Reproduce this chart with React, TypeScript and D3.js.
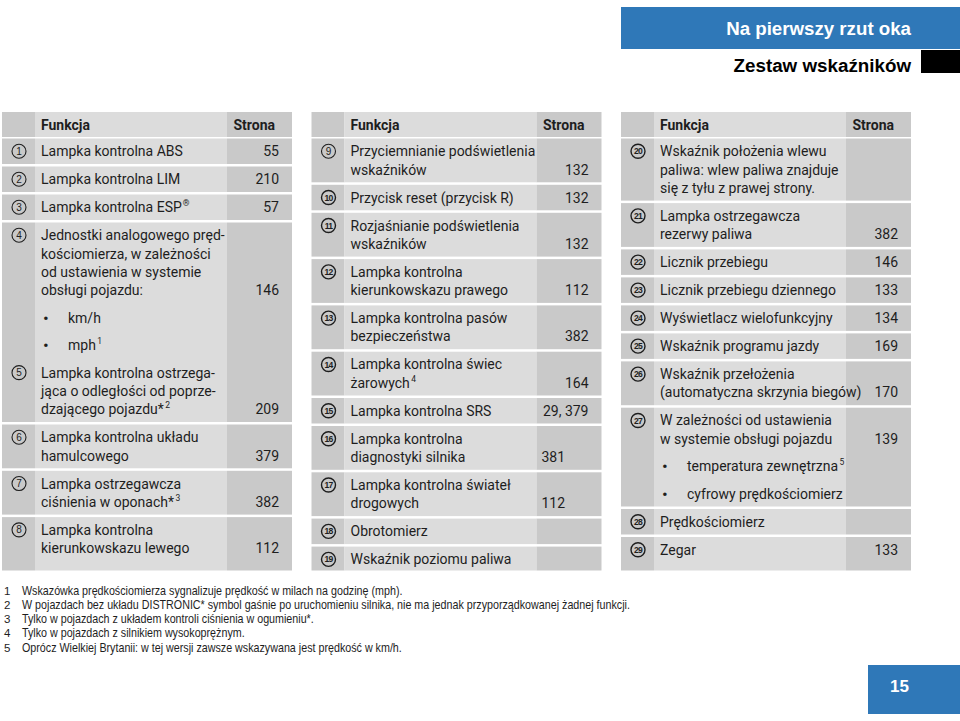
import React, { useEffect, useRef } from 'react';
import * as d3 from 'd3';

type Line = { num?: number; text: string; sup?: string; page?: string; bullet?: boolean };
type Block = Line[];

const sectionTitle = "Na pierwszy rzut oka";
const pageTitle = "Zestaw wskaźników";
const pageNumber = "15";
const headers = ["Funkcja", "Strona"];

const column1: Block[] = [
  [{ num: 1, text: "Lampka kontrolna ABS", page: "55" }],
  [{ num: 2, text: "Lampka kontrolna LIM", page: "210" }],
  [{ num: 3, text: "Lampka kontrolna ESP", sup: "®", page: "57" }],
  [
    { num: 4, text: "Jednostki analogowego pręd-" },
    { text: "kościomierza, w zależności" },
    { text: "od ustawienia w systemie" },
    { text: "obsługi pojazdu:", page: "146" },
    { bullet: true, text: "km/h" },
    { bullet: true, text: "mph", sup: "1" },
    { num: 5, text: "Lampka kontrolna ostrzega-" },
    { text: "jąca o odległości od poprze-" },
    { text: "dzającego pojazdu*", sup: "2", page: "209" },
  ],
  [{ num: 6, text: "Lampka kontrolna układu" }, { text: "hamulcowego", page: "379" }],
  [{ num: 7, text: "Lampka ostrzegawcza" }, { text: "ciśnienia w oponach*", sup: "3", page: "382" }],
  [{ num: 8, text: "Lampka kontrolna" }, { text: "kierunkowskazu lewego", page: "112" }],
];

const column2: Block[] = [
  [{ num: 9, text: "Przyciemnianie podświetlenia" }, { text: "wskaźników", page: "132" }],
  [{ num: 10, text: "Przycisk reset (przycisk R)", page: "132" }],
  [{ num: 11, text: "Rozjaśnianie podświetlenia" }, { text: "wskaźników", page: "132" }],
  [{ num: 12, text: "Lampka kontrolna" }, { text: "kierunkowskazu prawego", page: "112" }],
  [{ num: 13, text: "Lampka kontrolna pasów" }, { text: "bezpieczeństwa", page: "382" }],
  [{ num: 14, text: "Lampka kontrolna świec" }, { text: "żarowych", sup: "4", page: "164" }],
  [{ num: 15, text: "Lampka kontrolna SRS", page: "29, 379" }],
  [{ num: 16, text: "Lampka kontrolna" }, { text: "diagnostyki silnika", page: "381" }],
  [{ num: 17, text: "Lampka kontrolna świateł" }, { text: "drogowych", page: "112" }],
  [{ num: 18, text: "Obrotomierz" }],
  [{ num: 19, text: "Wskaźnik poziomu paliwa" }],
];

const column3: Block[] = [
  [
    { num: 20, text: "Wskaźnik położenia wlewu" },
    { text: "paliwa: wlew paliwa znajduje" },
    { text: "się z tyłu z prawej strony." },
  ],
  [{ num: 21, text: "Lampka ostrzegawcza" }, { text: "rezerwy paliwa", page: "382" }],
  [{ num: 22, text: "Licznik przebiegu", page: "146" }],
  [{ num: 23, text: "Licznik przebiegu dziennego", page: "133" }],
  [{ num: 24, text: "Wyświetlacz wielofunkcyjny", page: "134" }],
  [{ num: 25, text: "Wskaźnik programu jazdy", page: "169" }],
  [{ num: 26, text: "Wskaźnik przełożenia" }, { text: "(automatyczna skrzynia biegów)", page: "170" }],
  [
    { num: 27, text: "W zależności od ustawienia" },
    { text: "w systemie obsługi pojazdu", page: "139" },
    { bullet: true, text: "temperatura zewnętrzna", sup: "5" },
    { bullet: true, text: "cyfrowy prędkościomierz" },
  ],
  [{ num: 28, text: "Prędkościomierz" }],
  [{ num: 29, text: "Zegar", page: "133" }],
];

const columns = [column1, column2, column3];
const leftAlignedPages = [16, 17];

const footnotes = [
  "Wskazówka prędkościomierza sygnalizuje prędkość w milach na godzinę (mph).",
  "W pojazdach bez układu DISTRONIC* symbol gaśnie po uruchomieniu silnika, nie ma jednak przyporządkowanej żadnej funkcji.",
  "Tylko w pojazdach z układem kontroli ciśnienia w ogumieniu*.",
  "Tylko w pojazdach z silnikiem wysokoprężnym.",
  "Oprócz Wielkiej Brytanii: w tej wersji zawsze wskazywana jest prędkość w km/h.",
];

const App = () => {
  const svgRef = useRef<SVGSVGElement>(null);

  useEffect(() => {
    if (!svgRef.current) return;
    const width = 960;
    const height = 721;
    const font = "Roboto, 'Liberation Sans', Arial, sans-serif";
    const textColor = "#1e1e1e";
    const blue = "#2f78b8";

    const svg = d3.select(svgRef.current);
    svg.selectAll("*").remove();
    svg.attr("width", width).attr("height", height).attr("viewBox", `0 0 ${width} ${height}`);
    svg.append("rect").attr("width", width).attr("height", height).attr("fill", "#fff");

    // header bars
    svg.append("rect").attr("x", 621).attr("y", 7).attr("width", 339).attr("height", 42).attr("fill", blue);
    svg.append("rect").attr("x", 921).attr("y", 50).attr("width", 39).attr("height", 23).attr("fill", "#000");
    svg.append("text")
      .attr("x", 911).attr("y", 34.5).attr("text-anchor", "end")
      .attr("font-family", "'Liberation Sans', Arial, sans-serif")
      .attr("font-weight", "bold").attr("font-size", 18.7).attr("fill", "#fff")
      .text(sectionTitle);
    svg.append("text")
      .attr("x", 911).attr("y", 71.5).attr("text-anchor", "end")
      .attr("font-family", "'Liberation Sans', Arial, sans-serif")
      .attr("font-weight", "bold").attr("font-size", 18.8).attr("fill", "#000")
      .text(pageTitle);

    // table geometry
    const tableX = d3.scaleBand<number>()
      .domain([0, 1, 2])
      .range([2, 911])
      .paddingInner(19.5 / 309.5);
    const tw = tableX.bandwidth();
    const numW = 33;
    const pageX = 225;
    const headTop = 112;
    const headH = 25;
    const bodyTop = 138.5;
    const bodyBottom = 570.5;
    const pad = 12.75;
    const textStep = 18.3;
    const bulletStep = 27.5;
    const gap = 2.5;

    const gFunc = "#dcdcdc";
    const gSide = "#c9c9c9";

    const drawRowBg = (g: d3.Selection<SVGGElement, unknown, null, undefined>, y: number, h: number) => {
      g.append("rect").attr("x", 0).attr("y", y).attr("width", numW).attr("height", h).attr("fill", gSide);
      g.append("rect").attr("x", numW).attr("y", y).attr("width", pageX - numW).attr("height", h).attr("fill", gFunc);
      g.append("rect").attr("x", pageX).attr("y", y).attr("width", tw - pageX).attr("height", h).attr("fill", gSide);
    };

    const addText = (
      g: d3.Selection<SVGGElement, unknown, null, undefined>,
      x: number, y: number, txt: string, sup?: string
    ) => {
      const t = g.append("text")
        .attr("x", x).attr("y", y)
        .attr("font-family", font).attr("font-size", 14).attr("fill", textColor);
      t.append("tspan").text(txt);
      if (sup) {
        t.append("tspan").attr("font-size", 8.5).attr("dy", -6).attr("dx", sup === "®" ? 1 : 1.5).text(sup);
      }
      return t;
    };

    columns.forEach((blocks, ci) => {
      const g = svg.append("g").attr("transform", `translate(${tableX(ci)},0)`);

      // header
      drawRowBg(g, headTop, headH);
      g.append("text").attr("x", 39).attr("y", headTop + 17.5)
        .attr("font-family", font).attr("font-weight", "bold").attr("font-size", 14).attr("fill", textColor)
        .text(headers[0]);
      g.append("text").attr("x", 273).attr("y", headTop + 17.5).attr("text-anchor", "end")
        .attr("font-family", font).attr("font-weight", "bold").attr("font-size", 14).attr("fill", textColor)
        .text(headers[1]);

      let y = bodyTop;
      blocks.forEach((block, bi) => {
        const centers: number[] = [];
        let c = y + pad;
        block.forEach((line, li) => {
          if (li > 0) {
            const prev = block[li - 1];
            c += line.bullet || prev.bullet ? bulletStep : textStep;
          }
          centers.push(c);
        });
        const isLast = bi === blocks.length - 1;
        const h = isLast ? bodyBottom - y : centers[centers.length - 1] - y + pad;
        drawRowBg(g, y, h);

        let currentNum = 0;
        block.forEach((line, li) => {
          const cy = centers[li];
          const base = cy + 5;
          if (line.num !== undefined) {
            currentNum = line.num;
            const two = line.num >= 10;
            g.append("circle").attr("cx", 17).attr("cy", cy).attr("r", 7)
              .attr("fill", "none").attr("stroke", textColor).attr("stroke-width", two ? 1.4 : 1.1);
            g.append("text").attr("x", 17).attr("y", cy + (two ? 3.1 : 3.5)).attr("text-anchor", "middle")
              .attr("font-family", "'Liberation Sans', Arial, sans-serif")
              .attr("font-size", two ? 8.6 : 10).attr("font-weight", two ? "bold" : "normal")
              .attr("letter-spacing", two ? -0.7 : 0)
              .attr("fill", textColor)
              .text(String(line.num));
          }
          if (line.bullet) {
            g.append("text").attr("x", 41).attr("y", base + 1)
              .attr("font-family", font).attr("font-size", 17).attr("fill", textColor).text("•");
            addText(g, 66, base, line.text, line.sup);
          } else {
            addText(g, 39, base, line.text, line.sup);
          }
          if (line.page) {
            const left = leftAlignedPages.includes(currentNum);
            g.append("text").attr("x", left ? 230 : 277).attr("y", base)
              .attr("text-anchor", left ? "start" : "end")
              .attr("font-family", font).attr("font-size", 14).attr("fill", textColor)
              .text(line.page);
          }
        });
        y = y + h + gap;
      });
    });

    // footnotes
    const fy = d3.scaleLinear().domain([0, footnotes.length - 1]).range([594.5, 651.5]);
    footnotes.forEach((f, i) => {
      svg.append("text").attr("x", 4).attr("y", fy(i))
        .attr("font-family", "'Liberation Sans', Arial, sans-serif").attr("font-size", 11.5).attr("fill", textColor)
        .text(String(i + 1));
      svg.append("g").attr("transform", `translate(22,${fy(i)}) scale(0.865,1)`)
        .append("text").attr("x", 0).attr("y", 0)
        .attr("font-family", "'Liberation Sans', Arial, sans-serif").attr("font-size", 12.4).attr("fill", textColor)
        .text(f);
    });

    // page number
    svg.append("rect").attr("x", 868).attr("y", 665).attr("width", 92).attr("height", 49).attr("fill", blue);
    svg.append("text").attr("x", 890).attr("y", 692)
      .attr("font-family", "'Liberation Sans', Arial, sans-serif").attr("font-weight", "bold")
      .attr("font-size", 17).attr("fill", "#fff").text(pageNumber);
  }, []);

  return (
    <div style={{ position: 'absolute', left: 0, top: 0, width: 960, height: 721 }}>
      <svg ref={svgRef} style={{ display: 'block' }}></svg>
    </div>
  );
};

export default App;
